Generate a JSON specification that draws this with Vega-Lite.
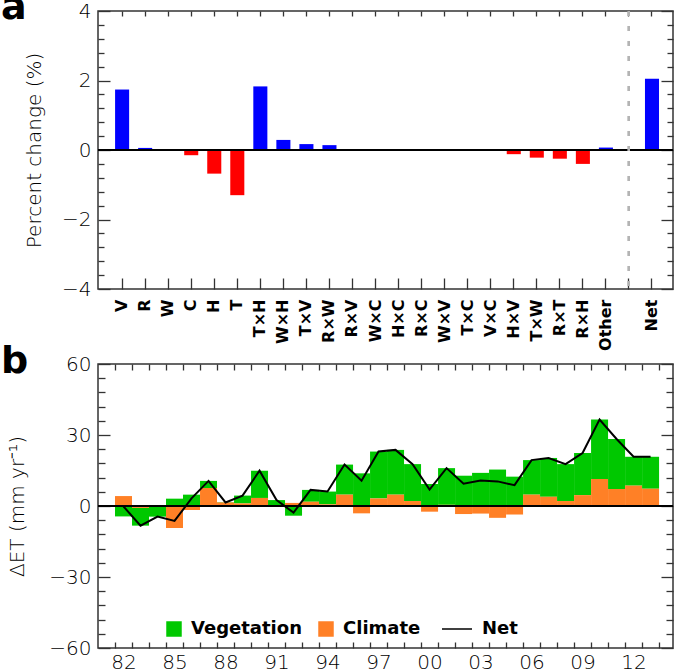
{
  "$schema": "https://vega.github.io/schema/vega-lite/v6.json",
  "background": "white",
  "padding": {"left": 0, "top": -12, "right": 0, "bottom": 0},
  "spacing": -10,
  "resolve": {"legend": {"fill": "independent", "stroke": "independent"}},
  "config": {
    "view": {"stroke": "#333333", "strokeWidth": 1.5},
    "axis": {"domain": false, "grid": false, "labelFont": "DejaVu Sans", "labelFontSize": 20, "labelFontWeight": 300, "labelColor": "black", "titleFont": "DejaVu Sans", "titleFontSize": 20, "titleFontWeight": 300, "titleColor": "black", "tickColor": "#333333", "tickWidth": 1.3},
    "legend": {"padding": 0}
  },
  "vconcat": [
    {
      "width": 575,
      "height": 278,
      "title": {"text": "a", "anchor": "start", "frame": "group", "dx": -97, "offset": -56, "baseline": "alphabetic", "fontSize": 38, "fontWeight": "bold", "font": "DejaVu Sans", "color": "black"},
      "data": {"values": [
        {"term": "V", "value": 1.74},
        {"term": "R", "value": 0.06},
        {"term": "W", "value": -0.02},
        {"term": "C", "value": -0.15},
        {"term": "H", "value": -0.68},
        {"term": "T", "value": -1.30},
        {"term": "T×H", "value": 1.83},
        {"term": "W×H", "value": 0.29},
        {"term": "T×V", "value": 0.17},
        {"term": "R×W", "value": 0.14},
        {"term": "R×V", "value": 0.01},
        {"term": "W×C", "value": 0.01},
        {"term": "H×C", "value": 0.01},
        {"term": "R×C", "value": -0.01},
        {"term": "W×V", "value": -0.01},
        {"term": "T×C", "value": -0.01},
        {"term": "V×C", "value": -0.01},
        {"term": "H×V", "value": -0.12},
        {"term": "T×W", "value": -0.22},
        {"term": "R×T", "value": -0.25},
        {"term": "R×H", "value": -0.40},
        {"term": "Other", "value": 0.07},
        {"term": "Net", "value": 2.05}
      ]},
      "layer": [
        {
          "mark": {"type": "bar"},
          "encoding": {
            "x": {"field": "term", "type": "nominal", "sort": null,
              "scale": {"domain": ["V","R","W","C","H","T","T×H","W×H","T×V","R×W","R×V","W×C","H×C","R×C","W×V","T×C","V×C","H×V","T×W","R×T","R×H","Other"," ","Net"], "paddingInner": 0.39, "paddingOuter": 0.674, "align": 0.55},
              "axis": {"orient": "bottom", "title": null, "labelAngle": 270, "labelFont": "DejaVu Sans", "labelFontWeight": "bold", "labelFontSize": 16, "tickSize": -11, "labelPadding": 21, "labelOverlap": false}},
            "y": {"field": "value", "type": "quantitative",
              "scale": {"domain": [-4, 4], "nice": false, "zero": false},
              "axis": {"orient": "left", "title": "Percent change (%)", "format": ".0f", "values": [-4,-3.6,-3.2,-2.8,-2.4,-2,-1.6,-1.2,-0.8,-0.4,0,0.4,0.8,1.2,1.6,2,2.4,2.8,3.2,3.6,4],
                "labelExpr": "abs(datum.value - 2*round(datum.value/2)) < 0.01 ? datum.label : ''",
                "tickSize": {"condition": {"test": "abs(datum.value - 2*round(datum.value/2)) < 0.01", "value": -12}, "value": -6},
                "labelPadding": 19, "titlePadding": 17}},
            "color": {"condition": {"test": "datum.value < 0", "value": "#ff0000"}, "value": "#0000ff"}
          }
        },
        {
          "mark": {"type": "rule", "color": "black", "strokeWidth": 1.3},
          "encoding": {"y": {"datum": 0, "scale": {"domain": [-4, 4], "nice": false, "zero": false}, "axis": null}}
        },
        {
          "mark": {"type": "rule", "color": "#b4b4b4", "strokeWidth": 2, "strokeDash": [5, 10]},
          "encoding": {"x": {"datum": " ", "type": "nominal",
            "scale": {"domain": ["V","R","W","C","H","T","T×H","W×H","T×V","R×W","R×V","W×C","H×C","R×C","W×V","T×C","V×C","H×V","T×W","R×T","R×H","Other"," ","Net"], "paddingInner": 0.39, "paddingOuter": 0.674, "align": 0.55},
            "axis": null}}
        },
        {
          "mark": {"type": "point", "opacity": 0},
          "encoding": {
            "x": {"field": "term", "type": "nominal", "sort": null,
              "scale": {"domain": ["V","R","W","C","H","T","T×H","W×H","T×V","R×W","R×V","W×C","H×C","R×C","W×V","T×C","V×C","H×V","T×W","R×T","R×H","Other"," ","Net"], "paddingInner": 0.39, "paddingOuter": 0.674, "align": 0.55},
              "axis": {"orient": "top", "title": null, "labels": false, "tickSize": -5}},
            "y": {"field": "value", "type": "quantitative",
              "scale": {"domain": [-4, 4], "nice": false, "zero": false},
              "axis": {"orient": "right", "title": null, "labels": false, "values": [-4,-3.6,-3.2,-2.8,-2.4,-2,-1.6,-1.2,-0.8,-0.4,0,0.4,0.8,1.2,1.6,2,2.4,2.8,3.2,3.6,4],
                "tickSize": {"condition": {"test": "abs(datum.value - 2*round(datum.value/2)) < 0.01", "value": -12}, "value": -6}}}
          }
        }
      ],
      "resolve": {"axis": {"x": "independent", "y": "independent"}}
    },
    {
      "width": 575,
      "height": 284,
      "title": {"text": "b", "anchor": "start", "frame": "group", "dx": -97, "offset": -57, "baseline": "alphabetic", "fontSize": 38, "fontWeight": "bold", "font": "DejaVu Sans", "color": "black"},
      "data": {"values": [
        {"year": 1982, "Vegetation": -4.4, "Climate": 4.2, "Net": -0.2},
        {"year": 1983, "Vegetation": -7.5, "Climate": -0.8, "Net": -8.3},
        {"year": 1984, "Vegetation": -4.2, "Climate": -0.3, "Net": -4.5},
        {"year": 1985, "Vegetation": 3.1, "Climate": -9.3, "Net": -6.3},
        {"year": 1986, "Vegetation": 4.8, "Climate": -1.7, "Net": 3.2},
        {"year": 1987, "Vegetation": 3.0, "Climate": 7.6, "Net": 10.6},
        {"year": 1988, "Vegetation": 0.2, "Climate": 1.5, "Net": 1.5},
        {"year": 1989, "Vegetation": 3.3, "Climate": 1.1, "Net": 4.4},
        {"year": 1990, "Vegetation": 11.5, "Climate": 3.4, "Net": 14.9},
        {"year": 1991, "Vegetation": 2.2, "Climate": 0.3, "Net": 2.5},
        {"year": 1992, "Vegetation": -4.1, "Climate": 1.3, "Net": -2.8},
        {"year": 1993, "Vegetation": 5.0, "Climate": 1.8, "Net": 6.8},
        {"year": 1994, "Vegetation": 5.4, "Climate": 0.7, "Net": 6.1},
        {"year": 1995, "Vegetation": 12.7, "Climate": 4.8, "Net": 17.5},
        {"year": 1996, "Vegetation": 13.8, "Climate": -3.1, "Net": 10.7},
        {"year": 1997, "Vegetation": 19.8, "Climate": 3.2, "Net": 23.0},
        {"year": 1998, "Vegetation": 18.9, "Climate": 4.8, "Net": 23.7},
        {"year": 1999, "Vegetation": 15.6, "Climate": 2.1, "Net": 17.7},
        {"year": 2000, "Vegetation": 9.3, "Climate": -2.4, "Net": 6.9},
        {"year": 2001, "Vegetation": 15.5, "Climate": 0.5, "Net": 16.0},
        {"year": 2002, "Vegetation": 12.8, "Climate": -3.4, "Net": 9.4},
        {"year": 2003, "Vegetation": 14.0, "Climate": -3.2, "Net": 10.8},
        {"year": 2004, "Vegetation": 15.4, "Climate": -5.0, "Net": 10.4},
        {"year": 2005, "Vegetation": 12.4, "Climate": -3.6, "Net": 8.8},
        {"year": 2006, "Vegetation": 14.6, "Climate": 4.8, "Net": 19.4},
        {"year": 2007, "Vegetation": 16.4, "Climate": 3.9, "Net": 20.3},
        {"year": 2008, "Vegetation": 15.6, "Climate": 2.1, "Net": 17.7},
        {"year": 2009, "Vegetation": 17.8, "Climate": 4.6, "Net": 22.4},
        {"year": 2010, "Vegetation": 25.1, "Climate": 11.4, "Net": 36.5},
        {"year": 2011, "Vegetation": 21.1, "Climate": 7.2, "Net": 28.3},
        {"year": 2012, "Vegetation": 12.2, "Climate": 8.6, "Net": 20.8},
        {"year": 2013, "Vegetation": 13.5, "Climate": 7.3, "Net": 20.8}
      ]},
      "layer": [
        {
          "transform": [{"fold": ["Vegetation", "Climate"], "as": ["factor", "dET"]}],
          "mark": {"type": "bar"},
          "encoding": {
            "x": {"field": "year", "type": "ordinal",
              "scale": {"domain": [1982,1983,1984,1985,1986,1987,1988,1989,1990,1991,1992,1993,1994,1995,1996,1997,1998,1999,2000,2001,2002,2003,2004,2005,2006,2007,2008,2009,2010,2011,2012,2013], "paddingInner": 0, "paddingOuter": 0.91, "align": 0.55},
              "axis": {"orient": "bottom", "title": null, "labelAngle": 0, "labelExpr": "datum.value % 3 == 2 ? substring(datum.label, 2) : ''", "tickBand": "extent", "tickSize": -6, "labelPadding": 10, "labelOverlap": false}},
            "y": {"field": "dET", "type": "quantitative", "stack": "zero",
              "scale": {"domain": [-60, 60], "nice": false, "zero": false},
              "axis": {"orient": "left", "title": "ΔET (mm yr⁻¹)", "values": [-60,-54,-48,-42,-36,-30,-24,-18,-12,-6,0,6,12,18,24,30,36,42,48,54,60],
                "labelExpr": "datum.value % 30 == 0 ? datum.label : ''",
                "tickSize": {"condition": {"test": "datum.value % 30 == 0", "value": -12}, "value": -7},
                "labelPadding": 19, "titlePadding": 21}},
            "fill": {"field": "factor", "type": "nominal",
              "scale": {"domain": ["Vegetation", "Climate"], "range": ["#00c800", "#ff8026"]},
              "legend": {"orient": "none", "legendX": 67, "legendY": 256, "direction": "horizontal", "title": null, "symbolType": "square", "symbolSize": 240, "symbolStrokeWidth": 0, "symbolOpacity": 1, "labelFont": "DejaVu Sans", "labelFontWeight": "bold", "labelFontSize": 18, "labelColor": "black", "labelOffset": 8, "columnPadding": 15, "labelLimit": 0}},
            "order": {"field": "factor", "sort": "ascending"}
          }
        },
        {
          "mark": {"type": "rule", "color": "black", "strokeWidth": 1.3},
          "encoding": {"y": {"datum": 0, "scale": {"domain": [-60, 60], "nice": false, "zero": false}, "axis": null}}
        },
        {
          "mark": {"type": "line", "strokeWidth": 2},
          "encoding": {
            "x": {"field": "year", "type": "ordinal",
              "scale": {"domain": [1982,1983,1984,1985,1986,1987,1988,1989,1990,1991,1992,1993,1994,1995,1996,1997,1998,1999,2000,2001,2002,2003,2004,2005,2006,2007,2008,2009,2010,2011,2012,2013], "paddingInner": 0, "paddingOuter": 0.91, "align": 0.55},
              "axis": null},
            "y": {"field": "Net", "type": "quantitative", "scale": {"domain": [-60, 60], "nice": false, "zero": false}, "axis": null},
            "stroke": {"datum": "Net", "type": "nominal", "scale": {"domain": ["Net"], "range": ["black"]},
              "legend": {"orient": "none", "legendX": 343, "legendY": 249, "title": null, "symbolType": "stroke", "symbolSize": 900, "symbolStrokeWidth": 1.5, "labelFont": "DejaVu Sans", "labelFontWeight": "bold", "labelFontSize": 18, "labelColor": "black", "labelOffset": 9}}
          }
        },
        {
          "mark": {"type": "point", "opacity": 0},
          "encoding": {
            "x": {"field": "year", "type": "ordinal",
              "scale": {"domain": [1982,1983,1984,1985,1986,1987,1988,1989,1990,1991,1992,1993,1994,1995,1996,1997,1998,1999,2000,2001,2002,2003,2004,2005,2006,2007,2008,2009,2010,2011,2012,2013], "paddingInner": 0, "paddingOuter": 0.91, "align": 0.55},
              "axis": {"orient": "top", "title": null, "labels": false, "tickBand": "extent", "tickSize": -6}},
            "y": {"field": "Net", "type": "quantitative", "scale": {"domain": [-60, 60], "nice": false, "zero": false},
              "axis": {"orient": "right", "title": null, "labels": false, "values": [-60,-54,-48,-42,-36,-30,-24,-18,-12,-6,0,6,12,18,24,30,36,42,48,54,60],
                "tickSize": {"condition": {"test": "datum.value % 30 == 0", "value": -12}, "value": -7}}}
          }
        }
      ],
      "resolve": {"axis": {"x": "independent", "y": "independent"}}
    }
  ]
}
